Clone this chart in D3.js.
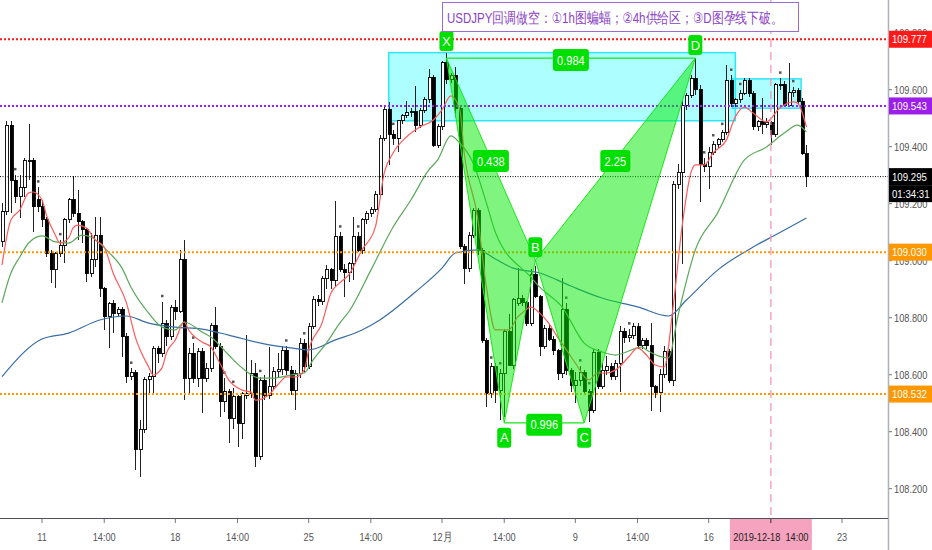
<!DOCTYPE html>
<html>
<head>
<meta charset="utf-8">
<script src="https://cdn.jsdelivr.net/npm/d3@7"></script>
<style>
  html, body { margin: 0; padding: 0; background: #fff; }
  svg { display: block; }
  text { font-family: "Liberation Sans", "DejaVu Sans", sans-serif; }
</style>
</head>
<body>
<svg id="chart" width="932" height="550"></svg>
<script>
// USDJPY 4h candles, first one is index -9 (index 0 = Mon 11 Nov first bar)
const firstIndex = -9;
const ohlc = [
  [109.067,109.201,109.049,109.172],[109.172,109.491,109.161,109.476],[109.476,109.491,109.166,109.283],
  [109.283,109.301,109.201,109.225],[109.225,109.301,109.149,109.258],[109.258,109.359,109.225,109.351],
  [109.351,109.480,109.283,109.353],[109.353,109.359,109.102,109.190],[109.213,109.258,109.172,109.190],
  [109.190,109.213,109.120,109.145],[109.145,109.155,109.014,109.026],[109.026,109.038,108.921,108.968],
  [108.968,109.032,108.903,109.026],[109.026,109.073,109.014,109.055],[109.055,109.149,108.991,109.143],
  [109.143,109.219,109.131,109.213],[109.213,109.297,109.155,109.166],[109.166,109.248,109.073,109.137],
  [109.137,109.143,109.061,109.108],[109.108,109.114,108.927,108.956],[108.956,109.096,108.944,109.003],
  [109.003,109.155,108.979,109.090],[109.090,109.155,108.874,108.903],[108.903,108.909,108.757,108.804],
  [108.804,108.856,108.693,108.851],[108.851,108.862,108.745,108.816],[108.816,108.839,108.804,108.830],
  [108.830,108.839,108.663,108.734],[108.734,108.745,108.570,108.593],[108.593,108.622,108.582,108.607],
  [108.607,108.617,108.266,108.338],[108.338,108.441,108.242,108.406],[108.406,108.593,108.394,108.582],
  [108.582,108.605,108.535,108.593],[108.593,108.699,108.535,108.693],[108.693,108.699,108.640,108.675],
  [108.675,108.856,108.663,108.778],[108.778,108.792,108.699,108.734],[108.734,108.845,108.722,108.837],
  [108.837,108.862,108.792,108.821],[108.821,109.038,108.816,109.003],[109.003,109.073,108.511,108.587],
  [108.587,108.693,108.535,108.675],[108.675,108.710,108.570,108.587],[108.587,108.693,108.558,108.681],
  [108.681,108.692,108.464,108.587],[108.587,108.640,108.575,108.622],[108.622,108.780,108.610,108.774],
  [108.774,108.838,108.690,108.698],[108.698,108.710,108.452,108.505],[108.505,108.587,108.470,108.540],
  [108.540,108.550,108.359,108.446],[108.446,108.555,108.411,108.522],[108.522,108.530,108.347,108.429],
  [108.429,108.540,108.376,108.534],[108.528,108.739,108.515,108.534],[108.534,108.651,108.520,108.604],
  [108.604,108.640,108.277,108.314],[108.314,108.593,108.300,108.581],[108.581,108.600,108.510,108.528],
  [108.528,108.698,108.515,108.558],[108.558,108.628,108.545,108.610],[108.610,108.675,108.590,108.618],
  [108.618,108.700,108.600,108.686],[108.686,108.700,108.600,108.616],[108.616,108.630,108.530,108.544],
  [108.544,108.615,108.476,108.604],[108.604,108.730,108.590,108.710],[108.710,108.725,108.610,108.628],
  [108.628,108.780,108.620,108.768],[108.768,108.875,108.760,108.864],[108.864,108.880,108.840,108.856],
  [108.856,108.945,108.845,108.938],[108.938,108.985,108.900,108.969],[108.969,108.975,108.900,108.932],
  [108.932,109.210,108.910,109.084],[109.084,109.100,108.960,108.969],[108.969,108.990,108.873,108.957],
  [108.957,108.995,108.926,108.990],[108.990,109.152,108.932,109.084],[109.084,109.100,109.030,109.037],
  [109.037,109.150,109.025,109.143],[109.143,109.175,109.130,109.166],[109.166,109.190,109.155,109.181],
  [109.181,109.245,109.170,109.234],[109.234,109.440,109.225,109.429],[109.429,109.545,109.420,109.531],
  [109.531,109.558,109.335,109.444],[109.444,109.460,109.405,109.429],[109.429,109.495,109.382,109.491],
  [109.491,109.515,109.480,109.511],[109.511,109.561,109.500,109.519],[109.519,109.535,109.505,109.522],
  [109.522,109.614,109.452,109.476],[109.476,109.535,109.465,109.528],[109.528,109.575,109.520,109.566],
  [109.566,109.674,109.555,109.643],[109.643,109.650,109.400,109.405],[109.405,109.480,109.395,109.470],
  [109.470,109.700,109.460,109.694],[109.694,109.729,109.620,109.636],[109.636,109.660,109.625,109.651],
  [109.651,109.680,109.505,109.534],[109.534,109.545,109.040,109.049],[109.049,109.060,108.920,108.973],
  [108.973,109.100,108.960,109.090],[109.090,109.185,109.080,109.177],[109.177,109.185,109.020,109.037],
  [109.037,109.045,108.710,108.721],[108.721,108.730,108.488,108.534],[108.534,108.640,108.520,108.628],
  [108.628,108.640,108.500,108.545],[108.545,108.620,108.440,108.604],[108.604,108.760,108.450,108.752],
  [108.752,108.812,108.630,108.634],[108.634,108.870,108.620,108.864],[108.850,108.976,108.840,108.867],
  [108.867,108.880,108.840,108.853],[108.853,108.860,108.770,108.780],[108.780,108.970,108.770,108.953],
  [108.953,108.982,108.870,108.873],[108.873,108.880,108.666,108.698],[108.698,108.775,108.690,108.762],
  [108.762,108.775,108.720,108.725],[108.725,108.735,108.670,108.684],[108.684,108.690,108.580,108.604],
  [108.604,108.939,108.590,108.829],[108.829,108.850,108.600,108.616],[108.616,108.625,108.540,108.563],
  [108.563,108.610,108.500,108.580],[108.580,108.630,108.560,108.606],[108.606,108.615,108.530,108.540],
  [108.540,108.550,108.435,108.476],[108.476,108.690,108.465,108.678],[108.678,108.690,108.550,108.558],
  [108.558,108.640,108.550,108.616],[108.616,108.666,108.600,108.628],[108.628,108.640,108.580,108.593],
  [108.593,108.650,108.580,108.640],[108.640,108.772,108.540,108.752],[108.752,108.765,108.710,108.729],
  [108.729,108.760,108.715,108.739],[108.739,108.780,108.725,108.768],[108.768,108.780,108.690,108.701],
  [108.701,108.730,108.690,108.720],[108.720,108.730,108.690,108.702],[108.702,108.780,108.473,108.558],
  [108.558,108.565,108.520,108.537],[108.537,108.620,108.468,108.599],[108.599,108.700,108.590,108.680],
  [108.680,108.690,108.570,108.579],[108.579,109.280,108.560,109.269],[109.269,109.339,109.250,109.310],
  [109.310,109.560,108.990,109.546],[109.546,109.590,109.530,109.581],[109.581,109.650,109.570,109.639],
  [109.639,109.710,109.580,109.602],[109.602,109.615,109.207,109.339],[109.339,109.360,109.310,109.330],
  [109.330,109.400,109.250,109.380],[109.380,109.420,109.370,109.409],[109.409,109.430,109.395,109.427],
  [109.427,109.460,109.415,109.450],[109.450,109.688,109.440,109.631],[109.631,109.650,109.540,109.552],
  [109.552,109.570,109.540,109.567],[109.567,109.600,109.555,109.587],[109.587,109.640,109.580,109.631],
  [109.631,109.640,109.575,109.585],[109.585,109.595,109.460,109.470],[109.470,109.495,109.455,109.488],
  [109.488,109.570,109.445,109.478],[109.478,109.500,109.465,109.485],[109.485,109.490,109.405,109.444],
  [109.444,109.625,109.435,109.617],[109.617,109.640,109.600,109.620],[109.620,109.630,109.540,109.546],
  [109.546,109.692,109.540,109.590],[109.590,109.610,109.575,109.598],[109.598,109.605,109.550,109.560],
  [109.560,109.570,109.370,109.376],[109.376,109.405,109.260,109.295]
];

// moving averages: [bar index, price]
const redMA = [[-9,108.985],[-7,109.143],[-5,109.178],[-3,109.238],[-2,109.241],[0,109.213],[1,109.160],[3,109.090],
  [4,109.062],[6,109.080],[7,109.115],[8,109.125],[10,109.115],[12,109.073],[14,109.048],[16,108.957],[19,108.852],
  [21,108.732],[24,108.627],[25,108.599],[27,108.624],[28,108.676],[30,108.722],[32,108.785],[33,108.757],[36,108.715],
  [38,108.697],[40,108.641],[42,108.582],[45,108.546],[47,108.539],[48,108.511],[51,108.529],[53,108.564],[55,108.592],
  [57,108.592],[59,108.616],[60,108.687],[63,108.781],[65,108.886],[67,108.922],[69,108.950],[72,109.038],[75,109.118],
  [77,109.308],[79,109.378],[82,109.434],[85,109.469],[88,109.493],[90,109.529],[92,109.578],[94,109.529],[95,109.378],
  [98,109.153],[100,108.907],[102,108.757],[105,108.757],[107,108.802],[108,108.816],[110,108.837],[112,108.816],
  [114,108.781],[116,108.732],[118,108.687],[120,108.641],[123,108.582],[125,108.606],[127,108.606],[129,108.616],
  [132,108.662],[134,108.694],[136,108.669],[138,108.634],[140,108.627],[142,108.837],[144,109.118],[146,109.308],
  [147,109.336],[149,109.336],[151,109.378],[154,109.424],[156,109.505],[158,109.539],[160,109.518],[163,109.487],
  [166,109.536],[169,109.557],[170,109.553],[172,109.469]];
const greenMA = [[-9,108.852],[-7,108.957],[-5,109.013],[-3,109.062],[0,109.087],[3,109.066],[6,109.062],[9,109.090],
  [11,109.083],[15,109.030],[18,108.974],[20,108.908],[24,108.816],[27,108.767],[30,108.757],[32,108.785],[36,108.750],
  [38,108.732],[42,108.669],[45,108.624],[49,108.588],[52,108.588],[56,108.599],[59,108.606],[61,108.652],[64,108.711],
  [67,108.781],[69,108.820],[74,108.967],[79,109.118],[83,109.213],[87,109.318],[89,109.353],[92,109.438],[94,109.413],
  [97,109.343],[100,109.202],[102,109.100],[110,108.942],[112,108.907],[117,108.838],[122,108.711],[126,108.680],
  [129,108.669],[135,108.697],[136,108.687],[141,108.659],[143,108.800],[147,109.038],[152,109.167],[158,109.353],
  [163,109.399],[167,109.448],[170,109.476],[172,109.452]];
const blueMA = [[-9,108.593],[0,108.725],[6,108.746],[13,108.792],[19,108.806],[24,108.781],[30,108.767],[36,108.760],
  [42,108.739],[50,108.708],[56,108.694],[60,108.687],[66,108.722],[72,108.757],[76,108.792],[84,108.890],[90,108.974],
  [93,109.027],[98,109.038],[102,109.006],[106,108.974],[112,108.957],[119,108.911],[126,108.869],[134,108.838],
  [141,108.806],[145,108.862],[152,108.967],[160,109.048],[165,109.090],[172,109.150]];

// horizontal levels and the price scale
const levelPrices = [109.777, 109.543, 109.030, 108.532];
const lastPrice = 109.295;
const countdown = "01:34:31";
const priceTicks = [108.2, 108.4, 108.6, 108.8, 109.0, 109.2, 109.4, 109.6, 109.8];

// time axis
const timeTickIdx = [0, 14, 30, 44, 60, 74, 90, 104, 120, 134, 150, 180];
const timeTickText = ["11", "14:00", "18", "14:00", "25", "14:00", "12月", "14:00", "9", "14:00", "16", "23"];
const cursorIdx = 164;
const cursorText = "2019-12-18  14:00";

// supply zones: [from bar, to bar, top price, bottom price]
const zones = [[78, 156, 109.730, 109.491], [155.3, 170.8, 109.638, 109.535]];

// bat pattern
const patternNames = ["X", "A", "B", "C", "D"];
const patternIdx = [91, 104, 111, 122, 147];
const patternPrices = [109.711, 108.431, 109.002, 108.431, 109.711];
const ratioPairs = [[0, 2], [1, 3], [2, 4], [0, 4]];
const ratioText = ["0.438", "0.996", "2.25", "0.984"];

// small fractal marks above bars
const markIdx = [-6, -1, 4, 20, 27, 34, 41, 43, 49, 55, 59, 67, 71, 79, 101, 103, 118, 121, 123, 132,
  149, 151, 153, 155, 157, 166, 169];

const title = "USDJPY回调做空：①1h图蝙蝠；②4h供给区；③D图孕线下破。";

// ---------------------------------------------------------------
const W = 932, H = 550, plotW = 888, plotH = 518;
const svg = d3.select("#chart");

const x = d3.scaleLinear().domain([0, 180]).range([42, 842]);
const y = d3.scaleLinear().domain([108.2, 109.8]).range([488.7, 32.7]);

// narrow text: put it in a translated group and squeeze it sideways
function narrowText(parent, tx, ty, str, f) {
  return parent.append("text")
    .attr("transform", `translate(${tx},${ty}) scale(${f},1)`)
    .text(str);
}

svg.append("rect").attr("width", W).attr("height", H).attr("fill", "#fff");
svg.append("clipPath").attr("id", "plotclip")
  .append("rect").attr("width", plotW).attr("height", plotH);
const plot = svg.append("g").attr("clip-path", "url(#plotclip)");

// cyan zones
plot.append("g").selectAll("rect").data(zones).join("rect")
  .attr("x", d => x(d[0]))
  .attr("width", d => x(d[1]) - x(d[0]))
  .attr("y", d => y(d[2]))
  .attr("height", d => y(d[3]) - y(d[2]))
  .attr("fill", "rgba(0,255,255,0.32)")
  .attr("stroke", "#2ee6f5")
  .attr("stroke-width", 1.5);

// candles
const candles = ohlc.map((d, k) => ({ i: firstIndex + k, o: d[0], h: d[1], l: d[2], c: d[3] }));
const cg = plot.append("g").attr("shape-rendering", "crispEdges");
cg.selectAll("line").data(candles).join("line")
  .attr("x1", d => Math.round(x(d.i)) + 0.5)
  .attr("x2", d => Math.round(x(d.i)) + 0.5)
  .attr("y1", d => y(d.h))
  .attr("y2", d => y(d.l))
  .attr("stroke", "#222")
  .attr("stroke-width", 1);
cg.selectAll("rect").data(candles).join("rect")
  .attr("x", d => Math.round(x(d.i)) - 1)
  .attr("width", 3)
  .attr("y", d => y(Math.max(d.o, d.c)))
  .attr("height", d => Math.max(1, Math.abs(y(d.o) - y(d.c))))
  .attr("fill", d => d.c >= d.o ? "#fff" : "#000")
  .attr("stroke", "#000")
  .attr("stroke-width", 0.9);

// fractal marks
plot.append("g").selectAll("rect").data(markIdx).join("rect")
  .attr("x", i => Math.round(x(i)) - 1)
  .attr("y", i => y(ohlc[i - firstIndex][1]) - 7)
  .attr("width", 2.5).attr("height", 2.5)
  .attr("fill", "#555");

// moving averages
const maLine = d3.line().x(d => x(d[0])).y(d => y(d[1])).curve(d3.curveMonotoneX);
[[blueMA, "#3a6ea5"], [greenMA, "#5aa85a"], [redMA, "#ff5a5a"]].forEach(([data, color]) => {
  plot.append("path").datum(data)
    .attr("d", maLine)
    .attr("fill", "none")
    .attr("stroke", color)
    .attr("stroke-width", 1.2);
});

// horizontal levels
const levelColors = ["#ff1a1a", "#9b1fe8", "#ff9800", "#ff9800"];
plot.append("g").selectAll("line").data(levelPrices).join("line")
  .attr("x1", 0).attr("x2", plotW)
  .attr("y1", d => y(d)).attr("y2", d => y(d))
  .attr("stroke", (d, k) => levelColors[k])
  .attr("stroke-width", 2)
  .attr("stroke-dasharray", "2,2");
plot.append("line")
  .attr("x1", 0).attr("x2", plotW)
  .attr("y1", y(lastPrice)).attr("y2", y(lastPrice))
  .attr("stroke", "#000").attr("stroke-width", 1)
  .attr("stroke-dasharray", "1,1.5");

// bat pattern
const pts = patternIdx.map((i, k) => [x(i), y(patternPrices[k])]);
const pg = plot.append("g");
[[0, 1, 2], [2, 3, 4]].forEach(tri => {
  pg.append("polygon")
    .attr("points", tri.map(k => pts[k].join(",")).join(" "))
    .attr("fill", "rgba(0,235,0,0.5)")
    .attr("stroke", "#19e619")
    .attr("stroke-width", 1);
});
[[0, 4], [1, 3]].forEach(([a, b]) => {
  pg.append("line")
    .attr("x1", pts[a][0]).attr("y1", pts[a][1])
    .attr("x2", pts[b][0]).attr("y2", pts[b][1])
    .attr("stroke", "#19e619").attr("stroke-width", 1.2);
});
const greenBox = "#00e000";
ratioPairs.forEach(([a, b], k) => {
  const cx = (pts[a][0] + pts[b][0]) / 2, cy = (pts[a][1] + pts[b][1]) / 2 + 2;
  const w = ratioText[k].length * 6 + 6;
  pg.append("rect").attr("x", cx - w / 2).attr("y", cy - 11).attr("width", w).attr("height", 22)
    .attr("rx", 3).attr("fill", greenBox);
  narrowText(pg, cx, cy + 4.5, ratioText[k], 0.85)
    .attr("text-anchor", "middle").attr("fill", "#fff").attr("font-size", 13);
});
patternNames.forEach((name, k) => {
  const up = k % 2 === 0;
  const cx = pts[k][0], cy = pts[k][1] + (up ? (k === 0 ? -17 : -13) : 15);
  pg.append("rect").attr("x", cx - 7).attr("y", cy - 10).attr("width", 14).attr("height", 20)
    .attr("rx", 3).attr("fill", greenBox);
  pg.append("text").attr("x", cx).attr("y", cy + 4.5).attr("text-anchor", "middle")
    .attr("fill", "#fff").attr("font-size", 13).text(name);
});

// crosshair line
plot.append("line")
  .attr("x1", x(cursorIdx)).attr("x2", x(cursorIdx))
  .attr("y1", 0).attr("y2", plotH)
  .attr("stroke", "#f48fb1").attr("stroke-width", 1.2)
  .attr("stroke-dasharray", "8,5");

// title box
svg.append("rect").attr("x", 442.5).attr("y", 2.5).attr("width", 356).attr("height", 29)
  .attr("fill", "#fff").attr("stroke", "#9b6bd6").attr("stroke-width", 1);
svg.append("text").attr("x", 447).attr("y", 23)
  .attr("font-family", "Noto Sans CJK SC").attr("font-size", 14.5)
  .attr("fill", "#8a3fc8")
  .attr("textLength", 336).attr("lengthAdjust", "spacingAndGlyphs")
  .text(title);

// price axis
svg.append("line").attr("x1", plotW + 0.5).attr("x2", plotW + 0.5).attr("y1", 0).attr("y2", H)
  .attr("stroke", "#b0b0b8").attr("stroke-width", 1.5);
const pa = svg.append("g");
pa.selectAll("line").data(priceTicks).join("line")
  .attr("x1", plotW + 1).attr("x2", plotW + 4)
  .attr("y1", d => y(d)).attr("y2", d => y(d))
  .attr("stroke", "#777");
priceTicks.forEach(p => {
  narrowText(pa, plotW + 6, y(p) + 4, d3.format(".3f")(p), 0.84)
    .attr("font-size", 11).attr("fill", "#555");
});

function priceTag(yy, txt, bg) {
  svg.append("rect").attr("x", plotW + 1).attr("y", yy - 8.5).attr("width", W - plotW - 1).attr("height", 17)
    .attr("fill", bg);
  narrowText(svg, plotW + 4, yy + 4, txt, 0.84)
    .attr("font-size", 11.5).attr("fill", "#fff");
}
levelPrices.forEach((p, k) => priceTag(y(p), d3.format(".3f")(p), levelColors[k]));
priceTag(y(lastPrice), d3.format(".3f")(lastPrice), "#000");
priceTag(y(lastPrice) + 17, countdown, "#000");

// time axis
svg.append("line").attr("x1", 0).attr("x2", plotW).attr("y1", plotH + 0.5).attr("y2", plotH + 0.5)
  .attr("stroke", "#50535e").attr("stroke-width", 1.2);
const ta = svg.append("g");
ta.selectAll("line").data(timeTickIdx).join("line")
  .attr("x1", i => x(i)).attr("x2", i => x(i))
  .attr("y1", plotH + 1).attr("y2", plotH + 5)
  .attr("stroke", "#777");
timeTickIdx.forEach((i, k) => {
  narrowText(ta, x(i), plotH + 23, timeTickText[k], 0.8)
    .attr("text-anchor", "middle").attr("font-size", 11.5).attr("fill", "#555");
});
svg.append("rect").attr("x", x(cursorIdx) - 41).attr("y", plotH + 1).attr("width", 82).attr("height", H - plotH - 1)
  .attr("fill", "#f5a3be");
svg.append("line").attr("x1", x(cursorIdx)).attr("x2", x(cursorIdx)).attr("y1", plotH + 1).attr("y2", plotH + 5)
  .attr("stroke", "#333");
narrowText(svg, x(cursorIdx), plotH + 23, cursorText, 0.8)
  .attr("text-anchor", "middle").attr("font-size", 11.5).attr("fill", "#222")
  .attr("xml:space", "preserve");
</script>
</body>
</html>
